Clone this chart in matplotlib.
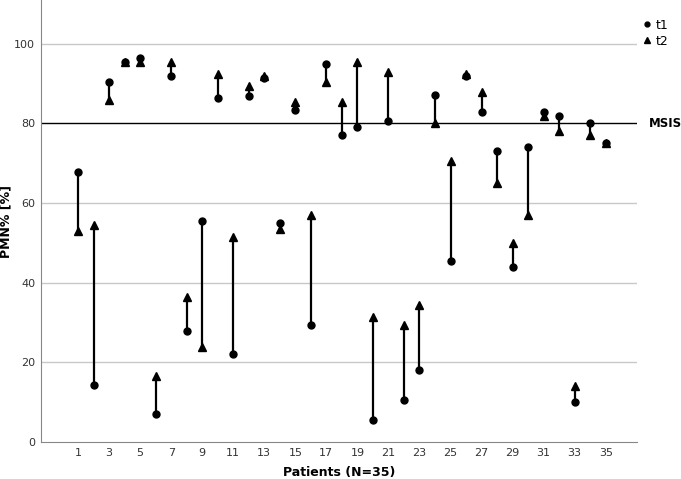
import numpy as np
import matplotlib.pyplot as plt

# PMN% per patient at two time points
patients = list(range(1, 36))
t1 = [67.8, 14.3, 90.5, 95.5, 96.5, 7.0, 92.0, 28.0, 55.5, 86.5,
      22.0, 87.0, 91.5, 55.0, 83.5, 29.5, 95.0, 77.0, 79.0, 5.5,
      80.7, 10.5, 18.0, 87.2, 45.5, 92.0, 83.0, 73.0, 44.0, 74.0,
      83.0, 82.0, 10.0, 80.0, 75.0]
t2 = [53.0, 54.5, 86.0, 95.5, 95.5, 16.5, 95.5, 36.5, 24.0, 92.5,
      51.5, 89.5, 92.0, 53.5, 85.5, 57.0, 90.5, 85.5, 95.5, 31.5,
      93.0, 29.5, 34.5, 80.0, 70.5, 92.5, 88.0, 65.0, 50.0, 57.0,
      82.0, 78.0, 14.0, 77.0, 75.0]
msis = 80
yticks = [0, 20, 40, 60, 80, 100]
xticks = list(range(1, 36, 2))

fig = plt.figure(figsize=(6.81, 4.79), dpi=100)
ax = fig.add_axes([0.060, 0.077, 0.875, 0.923])

# grid lines (80 is drawn as the MSIS line)
for y in [20, 40, 60, 100]:
    ax.axhline(y, color='#c8c8c8', lw=1.0, zorder=0)
ax.axhline(msis, color='black', lw=1.0, zorder=1)

x = np.array(patients)
ax.vlines(x, t1, t2, color='black', lw=1.6, zorder=2)
ax.plot(x, t1, 'o', color='black', ms=5, zorder=3, label='t1')
ax.plot(x, t2, '^', color='black', ms=5.5, zorder=3, label='t2')

ax.set_xlim(-1.4, 37)
ax.set_ylim(0, 111)
ax.set_xticks(xticks)
ax.set_yticks(yticks)
ax.tick_params(length=0, labelsize=8, colors='#333333', pad=4)
for s in ['top', 'right']:
    ax.spines[s].set_visible(False)
for s in ['left', 'bottom']:
    ax.spines[s].set_color('#888888')

ax.set_xlabel('Patients (N=35)', fontsize=9, fontweight='bold', labelpad=6)
ax.set_ylabel('PMN% [%]', fontsize=9, fontweight='bold')
ax.yaxis.set_label_coords(-0.047, 0.5)

ax.text(1.02, msis / 111, 'MSIS', transform=ax.transAxes,
        fontsize=8.5, fontweight='bold', ha='left', va='center', clip_on=False)

leg = ax.legend(loc='upper left', bbox_to_anchor=(1.0, 0.975), frameon=False,
                fontsize=9, handlelength=0.5, handletextpad=0.4,
                borderaxespad=0.2, labelspacing=0.25, markerscale=0.7)

fig.savefig('out.png', dpi=100)
